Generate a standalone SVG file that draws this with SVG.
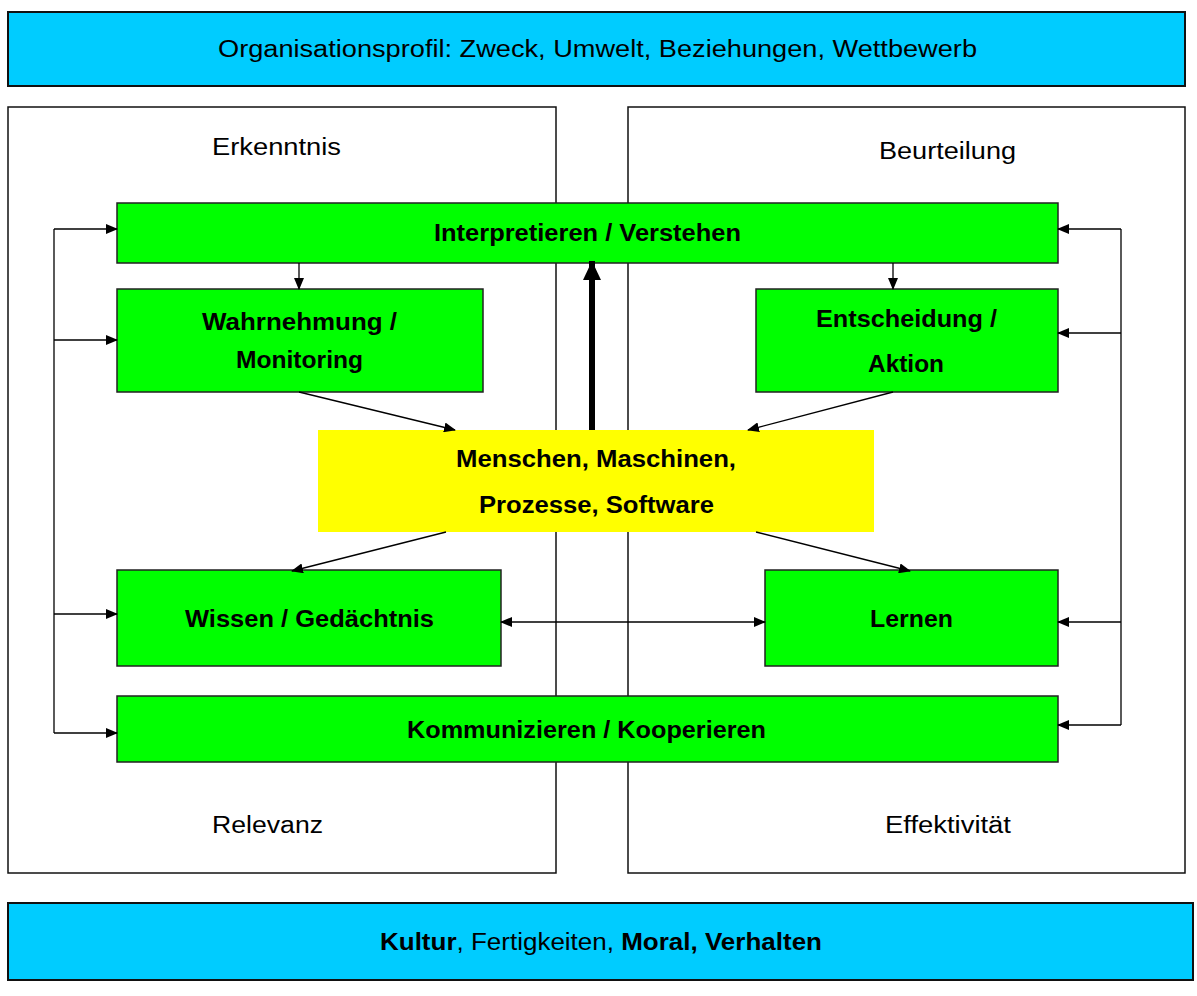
<svg xmlns="http://www.w3.org/2000/svg" width="1197" height="996" viewBox="0 0 1197 996">
<style>
.bar{fill:#00ccff;stroke:#111;stroke-width:2}
.panel{fill:#fff;stroke:#111;stroke-width:1.5}
.g{fill:#00ff00;stroke:#222;stroke-width:1.5}
.y{fill:#ffff00;stroke:none}
.t{font-family:"Liberation Sans",Arial,sans-serif;font-size:23px;fill:#000;text-anchor:middle}
.b{font-weight:bold}
.c{stroke:#000;stroke-width:1.3;fill:none}
</style>
<defs>
<marker id="ah" markerWidth="12" markerHeight="10" refX="11" refY="5" orient="auto" markerUnits="userSpaceOnUse">
<path d="M0,0 L12,5 L0,10 Z" fill="#000"/>
</marker>
<marker id="ahs" markerWidth="12" markerHeight="10" refX="1" refY="5" orient="auto" markerUnits="userSpaceOnUse">
<path d="M12,0 L0,5 L12,10 Z" fill="#000"/>
</marker>
<marker id="ahb" markerWidth="20" markerHeight="18" refX="19" refY="9" orient="auto" markerUnits="userSpaceOnUse">
<path d="M0,0 L19,9 L0,18 Z" fill="#000"/>
</marker>
</defs>
<g id="top"><rect class="bar" x="8" y="12" width="1177" height="74"/><text class="t" x="597.5" y="57" textLength="759" lengthAdjust="spacingAndGlyphs">Organisationsprofil: Zweck, Umwelt, Beziehungen, Wettbewerb</text></g>
<g id="left-panel"><rect class="panel" x="8" y="107" width="548" height="766"/><text class="t" x="276.5" y="155" textLength="129" lengthAdjust="spacingAndGlyphs">Erkenntnis</text><text class="t" x="267.5" y="833" textLength="111" lengthAdjust="spacingAndGlyphs">Relevanz</text></g>
<g id="right-panel"><rect class="panel" x="628" y="107" width="557" height="766"/><text class="t" x="947.5" y="159" textLength="137" lengthAdjust="spacingAndGlyphs">Beurteilung</text><text class="t" x="948" y="833" textLength="126" lengthAdjust="spacingAndGlyphs">Effektivität</text></g>
<g id="bottom"><rect class="bar" x="8" y="903" width="1185" height="77"/><text class="t" x="601" y="950" textLength="442" lengthAdjust="spacingAndGlyphs"><tspan class="b">Kultur</tspan>, Fertigkeiten, <tspan class="b">Moral, Verhalten</tspan></text></g>
<g id="interpretieren"><rect class="g" x="117" y="203" width="941" height="60"/><text class="t b" x="587.5" y="241" textLength="307" lengthAdjust="spacingAndGlyphs">Interpretieren / Verstehen</text></g>
<g id="wahrnehmung"><rect class="g" x="117" y="289" width="366" height="103"/><text class="t b" x="299.5" y="330" textLength="195" lengthAdjust="spacingAndGlyphs">Wahrnehmung /</text><text class="t b" x="299.5" y="368" textLength="127" lengthAdjust="spacingAndGlyphs">Monitoring</text></g>
<g id="entscheidung"><rect class="g" x="756" y="289" width="302" height="103"/><text class="t b" x="906.5" y="327" textLength="181" lengthAdjust="spacingAndGlyphs">Entscheidung /</text><text class="t b" x="906" y="372" textLength="76" lengthAdjust="spacingAndGlyphs">Aktion</text></g>
<g id="menschen"><rect class="y" x="318" y="430" width="556" height="102"/><text class="t b" x="596" y="467" textLength="280" lengthAdjust="spacingAndGlyphs">Menschen, Maschinen,</text><text class="t b" x="596.5" y="513" textLength="235" lengthAdjust="spacingAndGlyphs">Prozesse, Software</text></g>
<g id="wissen"><rect class="g" x="117" y="570" width="384" height="96"/><text class="t b" x="309.5" y="627" textLength="249" lengthAdjust="spacingAndGlyphs">Wissen / Gedächtnis</text></g>
<g id="lernen"><rect class="g" x="765" y="570" width="293" height="96"/><text class="t b" x="911.5" y="627" textLength="83" lengthAdjust="spacingAndGlyphs">Lernen</text></g>
<g id="kommunizieren"><rect class="g" x="117" y="696" width="941" height="66"/><text class="t b" x="586.5" y="738" textLength="359" lengthAdjust="spacingAndGlyphs">Kommunizieren / Kooperieren</text></g>
<g id="connectors">
<path class="c" d="M54,229 V733"/>
<path class="c" d="M54,229 H117" marker-end="url(#ah)"/>
<path class="c" d="M54,340 H117" marker-end="url(#ah)"/>
<path class="c" d="M54,614 H117" marker-end="url(#ah)"/>
<path class="c" d="M54,733 H117" marker-end="url(#ah)"/>
<path class="c" d="M1121,229 V725"/>
<path class="c" d="M1121,229 H1058" marker-end="url(#ah)"/>
<path class="c" d="M1121,333 H1058" marker-end="url(#ah)"/>
<path class="c" d="M1121,622 H1058" marker-end="url(#ah)"/>
<path class="c" d="M1121,725 H1058" marker-end="url(#ah)"/>
<path class="c" d="M299,263 V289" marker-end="url(#ah)"/>
<path class="c" d="M893,263 V289" marker-end="url(#ah)"/>
<path class="c" d="M299,392 L455,430" marker-end="url(#ah)"/>
<path class="c" d="M893,392 L748,430" marker-end="url(#ah)"/>
<path class="c" d="M446,532 L292,571" marker-end="url(#ah)"/>
<path class="c" d="M756,532 L910,571" marker-end="url(#ah)"/>
<path class="c" d="M501,622 H765" marker-start="url(#ahs)" marker-end="url(#ah)"/>
<path d="M592,430 V261" stroke="#000" stroke-width="6" fill="none" marker-end="url(#ahb)"/>
</g>
</svg>
